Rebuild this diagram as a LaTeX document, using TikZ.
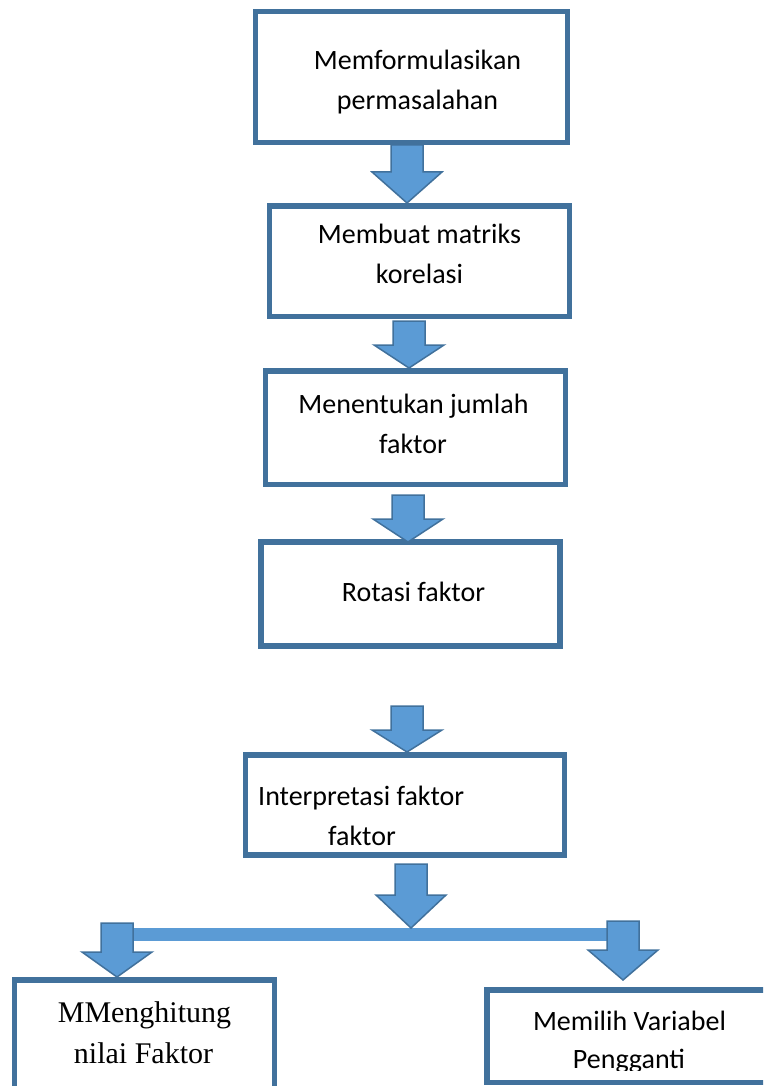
\documentclass[tikz,border=0pt]{standalone}
\usepackage{fontspec}
\setmainfont{Carlito}
\newfontfamily\timesfont{Liberation Serif}
\definecolor{boxblue}{RGB}{65,113,156}
\definecolor{arrowblue}{RGB}{91,155,213}
\tikzset{
  box/.style={draw=boxblue, line width=5.5pt, fill=white, inner sep=0pt},
  txt/.style={font=\fontsize{28}{40}\selectfont, inner sep=0pt, anchor=base},
  txtl/.style={txt, anchor=base west},
  serif/.style={font=\timesfont\fontsize{30}{40}\selectfont, inner sep=0pt, anchor=base},
  arr/.style={fill=arrowblue, draw=boxblue, line width=1.5pt, line join=miter},
  bar/.style={draw=arrowblue, line width=13pt}
}
\newcommand\blockarrow[5]{%
  % #1 name, #2 centre x, #3 shaft top y, #4 shoulder y, #5 tip y
  \coordinate (#1) at (#2,#5);
  \draw[arr] (#2-16,#3) -- (#2+16,#3) -- (#2+16,#4) -- (#2+35,#4) -- (#1)
    -- (#2-35,#4) -- (#2-16,#4) -- cycle;
}
\begin{document}
\begin{tikzpicture}[x=1pt,y=-1pt]
\useasboundingbox (0,0) rectangle (763,1086);
\clip (0,0) rectangle (763,1086);

% boxes
\node[box, minimum width=312pt, minimum height=131pt] (b1) at (411.5,77) {};
\node[box, minimum width=300pt, minimum height=110.5pt] (b2) at (419.5,261.25) {};
\node[box, minimum width=300pt, minimum height=113.5pt] (b3) at (415.5,427.75) {};
\node[box, minimum width=299pt, minimum height=104pt] (b4) at (410.5,594) {};
\node[box, minimum width=319pt, minimum height=100pt] (b5) at (405,805) {};
\node[box, minimum width=260pt, minimum height=130pt] (b6) at (144.5,1045) {};
\node[box, minimum width=303pt, minimum height=92.5pt] (b7) at (638.5,1036.25) {};

% texts
\node[txt] (t1a) at (417.5,70) {Memformulasikan};
\node[txt] (t1b) at (417.5,110) {permasalahan};
\node[txt] (t2a) at (419.5,243) {Membuat matriks};
\node[txt] (t2b) at (419.5,283) {korelasi};
\node[txt] (t3a) at (413.5,413) {Menentukan jumlah};
\node[txt] (t3b) at (413,453) {faktor};
\node[txt] (t4) at (413.5,601) {Rotasi faktor};
\node[txtl] (t5a) at (258,805) {Interpretasi faktor};
\node[txtl] (t5b) at (328,845) {faktor};
\node[serif] (t6a) at (144.5,1022) {MMenghitung};
\node[serif] (t6b) at (143.5,1063) {nilai Faktor};
\node[txt] (t7a) at (629.5,1030) {Memilih Variabel};
\begin{scope}
  \clip (490,993) rectangle (763,1070);
  \node[txt] (t7b) at (629,1068) {Pengganti};
\end{scope}

% branch bar
\coordinate (barL) at (117,934.5);
\coordinate (barR) at (623,934.5);
\draw[bar] (barL) -- (barR);

% block arrows
\blockarrow{a1}{407}{145}{172}{203}
\blockarrow{a2}{409}{321}{345}{368}
\blockarrow{a3}{408}{495}{519}{542}
\blockarrow{a4}{407}{706}{730}{752}
\blockarrow{a5}{411}{864}{895}{928}
\blockarrow{a6}{117}{923}{952}{977}
\blockarrow{a7}{623}{921}{950}{980}
\end{tikzpicture}
\end{document}
